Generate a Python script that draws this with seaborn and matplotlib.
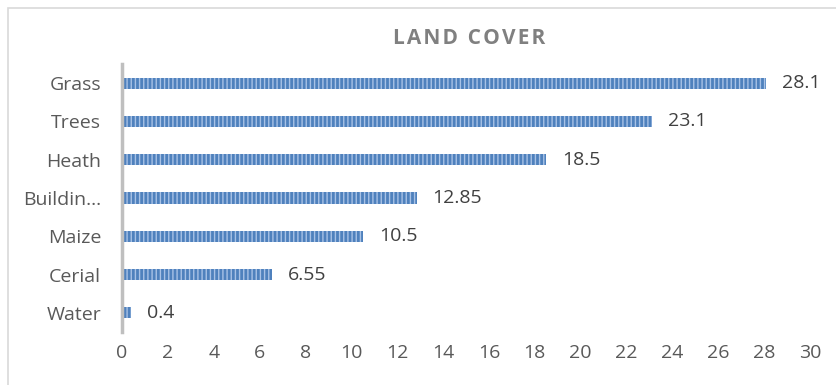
import matplotlib
matplotlib.use("Agg")
import matplotlib.pyplot as plt
import seaborn as sns
import pandas as pd
from matplotlib.patches import Rectangle

categories = ["Grass", "Trees", "Heath", "Building", "Maize", "Cerial", "Water"]
tick_labels = ["Grass", "Trees", "Heath", "Buildin…", "Maize", "Cerial", "Water"]
values = [28.1, 23.1, 18.5, 12.85, 10.5, 6.55, 0.4]
value_labels = ["28.1", "23.1", "18.5", "12.85", "10.5", "6.55", "0.4"]
x_ticks = list(range(0, 31, 2))
title = "LAND COVER"

sns.set_theme(style="white")
plt.rcParams["font.family"] = ["Open Sans", "DejaVu Sans"]
plt.rcParams["hatch.linewidth"] = 1.0

df = pd.DataFrame({"category": categories, "value": values})

W, H = 836, 385
fig = plt.figure(figsize=(W / 100, H / 100), dpi=100)
ax = fig.add_axes([122 / W, 1 - 332 / H, (810 - 122) / W, (332 - 64) / H])

sns.barplot(data=df, x="value", y="category", orient="h", color="#4f81bd",
            width=0.29, saturation=1, ax=ax)

for bar in ax.patches:
    bar.set_hatch("||||")
    bar.set_edgecolor("#a8c2e6")
    bar.set_linewidth(0)

for bar, lab in zip(ax.patches, value_labels):
    ax.annotate(lab, (bar.get_width(), bar.get_y() + bar.get_height() / 2),
                xytext=(11.5, 0), textcoords="offset points", va="center", ha="left",
                fontsize=14, color="#404040")

ax.set_xlim(0, 30)
ax.set_xticks(x_ticks)
ax.set_xticklabels([str(t) for t in x_ticks], fontsize=14, color="#595959")
ax.set_yticks(range(len(categories)))
ax.set_yticklabels(tick_labels, fontsize=14, color="#595959")
ax.tick_params(axis="both", length=0)
ax.tick_params(axis="y", pad=15)
ax.tick_params(axis="x", pad=9)
ax.set_xlabel("")
ax.set_ylabel("")

for s in ["top", "right", "bottom"]:
    ax.spines[s].set_visible(False)
ax.spines["left"].set_color("#bfbfbf")
ax.spines["left"].set_linewidth(2.5)

# spaced-out bold title
spaced_title = "\u200a".join(title)
fig.text(469 / W, 1 - 38 / H, spaced_title, ha="center", va="center",
         fontsize=15, fontweight="bold", color="#808080")

fig.patches.append(Rectangle((8 / W, -10 / H), (W + 20) / W, (H + 2) / H,
                             transform=fig.transFigure, fill=False,
                             edgecolor="#d9d9d9", linewidth=1.2))

fig.savefig("out.png", dpi=100)
